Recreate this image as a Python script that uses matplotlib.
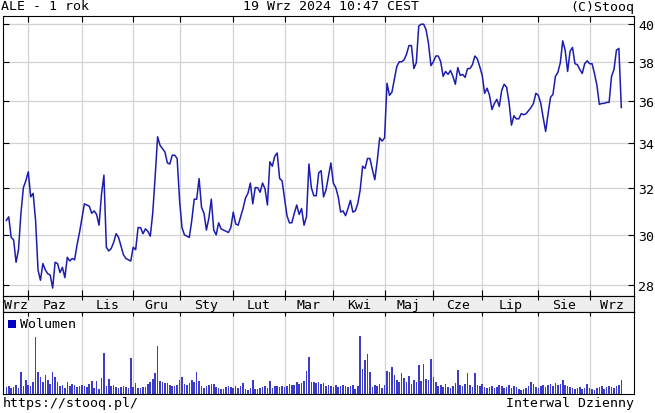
import numpy as np
import matplotlib
matplotlib.use('Agg')
import matplotlib.pyplot as plt
from matplotlib.patches import Rectangle

# Notowania ALE, ostatni rok (indeks = kolejna sesja)
price = [
    30.6, 30.75, 29.9, 29.8, 28.9, 29.4, 30.9, 32.0, 32.3, 32.7,
    31.6, 31.75, 30.6, 28.6, 28.2, 28.85, 28.6, 28.45, 28.4, 27.9,
    28.9, 28.85, 28.5, 28.7, 28.3, 29.1, 28.95, 29.05, 29.0, 29.6,
    30.1, 30.7, 31.3, 31.25, 31.2, 30.9, 31.0, 30.85, 30.4, 31.7,
    32.55, 29.5, 29.35, 29.45, 29.7, 30.05, 29.9, 29.55, 29.2, 29.05,
    29.0, 28.95, 29.5, 29.4, 30.3, 30.3, 30.05, 30.25, 30.15, 29.95,
    30.9, 32.5, 34.3, 33.9, 33.75, 33.6, 33.1, 33.05, 33.45, 33.45,
    33.3, 31.45, 30.3, 30.0, 29.95, 29.9, 30.6, 31.5, 31.5, 32.4,
    31.15, 30.9, 30.2, 30.7, 31.5, 30.2, 30.0, 30.5, 30.25, 30.2,
    30.15, 30.1, 30.3, 30.95, 30.45, 30.4, 30.75, 31.1, 31.55, 31.75,
    32.2, 31.3, 32.0, 32.0, 31.8, 32.2, 31.95, 31.25, 33.15, 32.95,
    33.4, 33.55, 32.4, 32.3, 31.55, 30.8, 30.5, 30.5, 30.9, 31.25,
    30.85, 31.1, 30.4, 30.75, 33.05, 32.0, 31.65, 31.65, 32.65, 32.75,
    31.6, 31.9, 32.5, 33.1, 32.2, 32.0, 31.6, 30.95, 31.0, 30.8,
    31.1, 31.45, 30.95, 31.0, 31.3, 31.9, 32.95, 32.85, 33.3, 33.3,
    32.8, 32.35, 33.2, 34.25, 34.1, 34.25, 36.9, 36.3, 36.45, 37.1,
    37.75, 38.0, 38.0, 38.1, 38.4, 38.85, 38.85, 37.65, 37.95, 39.9,
    40.0, 40.0, 39.7, 38.95, 37.8, 38.0, 38.3, 38.3, 38.0, 37.25,
    37.5, 37.35, 37.55, 37.25, 36.85, 37.7, 37.3, 37.35, 37.2, 37.65,
    37.65, 37.85, 38.3, 38.15, 37.75, 37.3, 36.4, 36.65, 36.3, 35.6,
    35.9, 36.1, 35.75, 36.55, 36.85, 36.7, 35.95, 34.85, 35.3, 35.15,
    35.15, 35.4, 35.35, 35.4, 35.55, 35.7, 35.9, 36.4, 36.3, 35.9,
    35.2, 34.55, 35.4, 36.2, 36.35, 37.25, 37.45, 37.95, 39.1, 38.6,
    37.5, 38.55, 38.75, 37.9, 37.85, 37.6, 37.4, 37.9, 38.05, 37.9,
    37.9, 37.4, 36.8, 35.85, 35.9, 35.9, 35.95, 35.95, 37.25, 37.6,
    38.6, 38.7, 35.7,
]

# wolumen w tys. szt. (szacunek z wykresu)
volume = [
    7, 8, 6, 7, 9, 6, 22, 8, 14, 9,
    8, 12, 57, 22, 17, 12, 19, 14, 10, 22,
    17, 12, 8, 9, 6, 12, 8, 10, 9, 7,
    8, 9, 8, 7, 10, 13, 6, 13, 5, 16,
    41, 8, 15, 8, 9, 7, 6, 7, 8, 7,
    6, 36, 7, 11, 6, 6, 7, 7, 10, 12,
    15, 21, 48, 13, 12, 11, 11, 9, 8, 8,
    9, 14, 17, 10, 9, 11, 14, 12, 22, 13,
    8, 6, 8, 9, 10, 10, 7, 6, 5, 5,
    7, 8, 7, 6, 8, 6, 8, 11, 5, 4,
    6, 14, 5, 5, 6, 7, 8, 6, 13, 6,
    8, 8, 7, 8, 7, 8, 10, 9, 9, 12,
    10, 11, 13, 23, 37, 12, 12, 11, 12, 10,
    11, 8, 9, 8, 7, 9, 7, 8, 9, 8,
    7, 8, 9, 5, 8, 58, 25, 34, 40, 22,
    7, 9, 8, 10, 6, 9, 23, 22, 27, 19,
    14, 12, 21, 16, 12, 18, 10, 14, 12, 29,
    13, 30, 15, 14, 35, 17, 12, 8, 9, 7,
    10, 7, 6, 8, 11, 24, 9, 8, 10, 21,
    9, 7, 21, 9, 8, 10, 7, 6, 7, 8,
    6, 7, 9, 8, 6, 7, 9, 6, 8, 7,
    5, 4, 5, 6, 8, 12, 10, 7, 6, 8,
    9, 7, 9, 10, 8, 11, 9, 10, 14, 9,
    8, 7, 6, 5, 6, 7, 5, 6, 10, 6,
    5, 4, 6, 7, 8, 5, 7, 8, 7, 6,
    8, 9, 14,
]

month_labels = ['Wrz', 'Paz', 'Lis', 'Gru', 'Sty', 'Lut', 'Mar',
                'Kwi', 'Maj', 'Cze', 'Lip', 'Sie', 'Wrz']
# indeks pierwszej sesji w miesiacu
month_start_idx = [9, 31, 52, 71, 93, 114, 134, 155, 175, 195, 218, 239]
price_ticks = [28, 30, 32, 34, 36, 38, 40]

W, H = 655, 414
X_LIM = (-1.35, 257.2)
Y_LIM = (27.6, 40.45)
MONO = 'DejaVu Sans Mono'
FS = 9.5
LINE_BLUE = '#1c1cb0'
GRID = '#d2d2d2'


def box(left, top, right, bottom):
    # piksele -> ulamki figury
    return [left / W, 1 - bottom / H, (right - left) / W, (bottom - top) / H]


def style_frame(ax: plt.Axes):
    for s in ax.spines.values():
        s.set_linewidth(0.8)
        s.set_color('black')


def draw_price(ax: plt.Axes):
    x = np.arange(len(price))
    ax.plot(x, price, color=LINE_BLUE, lw=1.1, solid_joinstyle='round')
    ax.set_yscale('log')
    ax.set_xlim(*X_LIM)
    ax.set_ylim(*Y_LIM)
    ax.set_yticks(price_ticks)
    ax.set_yticklabels([str(t) for t in price_ticks], family=MONO, fontsize=FS)
    ax.minorticks_off()
    ax.yaxis.tick_right()
    ax.tick_params(axis='y', which='both', direction='in', length=4, width=0.8,
                   left=True, right=True, labelleft=False, labelright=True, pad=3)
    ax.set_xticks(month_start_idx)
    ax.set_xticklabels([])
    ax.tick_params(axis='x', direction='in', length=4, width=0.8, top=True, bottom=True)
    ax.grid(True, color=GRID, lw=0.9)
    ax.set_axisbelow(True)
    style_frame(ax)


def draw_strip(ax: plt.Axes):
    ax.set_xlim(*X_LIM)
    ax.set_ylim(0, 1)
    ax.set_facecolor('#eeeeee')
    ax.set_xticks(month_start_idx)
    ax.set_xticklabels([])
    ax.set_yticks([])
    ax.tick_params(axis='x', direction='in', length=3, width=0.8, top=True, bottom=False)
    edges = [X_LIM[0]] + month_start_idx + [X_LIM[1]]
    for lab, a, b in zip(month_labels, edges[:-1], edges[1:]):
        ax.text((a + b) / 2, 0.45, lab, ha='center', va='center',
                family=MONO, fontsize=FS)
    style_frame(ax)


def draw_volume(ax: plt.Axes):
    x = np.arange(len(volume))
    ax.bar(x, volume, width=0.65, color='#3c3cc8', linewidth=0)
    ax.set_xlim(*X_LIM)
    ax.set_ylim(0, 82)
    ax.set_yticks([])
    ax.set_xticks(month_start_idx)
    ax.set_xticklabels([])
    ax.tick_params(axis='x', direction='in', length=3, width=0.8, top=True, bottom=False)
    ax.grid(True, axis='x', color=GRID, lw=0.9)
    ax.set_axisbelow(True)
    ax.add_patch(Rectangle((5 / 631, (395 - 329) / 82), 8 / 631, 8 / 82,
                           transform=ax.transAxes, color='#0000c0', lw=0))
    ax.text(17 / 631, (395 - 325) / 82, 'Wolumen', transform=ax.transAxes,
            ha='left', va='center', family=MONO, fontsize=FS)
    style_frame(ax)


def main():
    assert len(price) == len(volume)
    fig = plt.figure(figsize=(W / 100, H / 100), dpi=100)
    fig.patch.set_facecolor('white')

    ax_price = fig.add_axes(box(3, 17, 634, 297))
    ax_strip = fig.add_axes(box(3, 297, 634, 313))
    ax_vol = fig.add_axes(box(3, 313, 634, 395))

    draw_price(ax_price)
    draw_strip(ax_strip)
    draw_volume(ax_vol)

    fig.text(1 / W, 1 - 7 / H, 'ALE - 1 rok', ha='left', va='center', family=MONO, fontsize=FS)
    fig.text(331 / W, 1 - 7 / H, '19 Wrz 2024 10:47 CEST', ha='center', va='center',
             family=MONO, fontsize=FS)
    fig.text(634 / W, 1 - 7 / H, '(C)Stooq', ha='right', va='center', family=MONO, fontsize=FS)
    fig.text(3 / W, 1 - 404 / H, 'https://stooq.pl/', ha='left', va='center',
             family=MONO, fontsize=FS)
    fig.text(634 / W, 1 - 404 / H, 'Interwal Dzienny', ha='right', va='center',
             family=MONO, fontsize=FS)

    fig.savefig('out.png', dpi=100)
    plt.close(fig)


if __name__ == '__main__':
    main()
